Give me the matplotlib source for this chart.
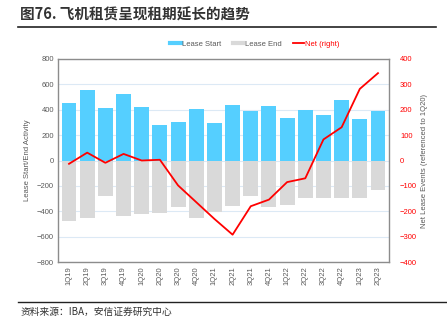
import matplotlib.pyplot as plt
from matplotlib.lines import Line2D

plt.rcParams['font.family'] = ['Liberation Sans', 'Noto Sans CJK SC', 'DejaVu Sans']

quarters = ['1Q19', '2Q19', '3Q19', '4Q19', '1Q20', '2Q20', '3Q20', '4Q20', '1Q21',
            '2Q21', '3Q21', '4Q21', '1Q22', '2Q22', '3Q22', '4Q22', '1Q23', '2Q23']
lease_start = [450, 555, 416, 524, 424, 277, 306, 406, 298,
               437, 390, 430, 332, 395, 361, 477, 330, 393]
lease_end = [-473, -455, -276, -439, -420, -412, -368, -449, -402,
             -357, -281, -368, -349, -294, -292, -299, -297, -231]
net = [-13, 31, -9, 26, 0, 3, -98, -164, -230,
       -292, -180, -154, -85, -70, 83, 131, 282, 344]

fig = plt.figure(figsize=(4.47, 3.22), dpi=100)
ax = fig.add_axes([0.130, 0.186, 0.740, 0.631])

x = list(range(len(quarters)))
ax.bar(x, lease_start, width=0.82, color='#55cfff', zorder=2)
ax.bar(x, lease_end, width=0.82, color='#d9d9d9', zorder=2)

ax.set_ylim(-800, 800)
ax.set_yticks(range(-800, 801, 200))
ax.set_xlim(-0.6, len(quarters) - 0.4)
ax.set_xticks(x)
ax.set_xticklabels(quarters, rotation=90)
ax.grid(axis='y', color='#dce9f5', linewidth=0.8, zorder=0)
ax.tick_params(labelsize=5.5, colors='#595959', length=0, pad=3)
for s in ax.spines.values():
    s.set_color('#8c8c8c')
    s.set_linewidth(1.0)
ax.set_ylabel('Lease Start/End Activity', fontsize=5.5, color='#595959', labelpad=4)

ax2 = ax.twinx()
ax2.plot(x, net, color='#ff0000', linewidth=1.3, zorder=3)
ax2.set_ylim(-400, 400)
ax2.set_yticks(range(-400, 401, 100))
ax2.tick_params(labelsize=5.5, colors='#ff0000', length=0, pad=8)
for s in ax2.spines.values():
    s.set_visible(False)
ax2.set_ylabel('Net Lease Events (referenced to 1Q20)', fontsize=5.5,
               color='#595959', labelpad=3)

handles = [Line2D([], [], color='#55cfff', linewidth=3),
           Line2D([], [], color='#d9d9d9', linewidth=3),
           Line2D([], [], color='#ff0000', linewidth=1.3)]
leg = fig.legend(handles, ['Lease Start', 'Lease End', 'Net (right)'],
                 loc='center', bbox_to_anchor=(0.57, 0.862), ncol=3, frameon=False,
                 fontsize=5.5, handlelength=1.4, handletextpad=0.2, columnspacing=1.5)
for t, c in zip(leg.get_texts(), ['#595959', '#595959', '#ff0000']):
    t.set_color(c)

fig.text(0.045, 0.955, '图76. 飞机租赁呈现租期延长的趋势', fontsize=10.5, fontweight='bold',
         color='#333333', va='center', family=['Noto Sans CJK SC', 'DejaVu Sans'])
fig.add_artist(Line2D([0.04, 0.975], [0.915, 0.915], color='#222222', linewidth=1.2))
fig.add_artist(Line2D([0.04, 1.0], [0.063, 0.063], color='#222222', linewidth=1.0))
fig.text(0.045, 0.03, '资料来源：IBA，安信证券研究中心', fontsize=7, style='italic',
         color='#333333', va='center', family=['Noto Sans CJK SC', 'DejaVu Sans'])

fig.savefig('out.png', dpi=100)
